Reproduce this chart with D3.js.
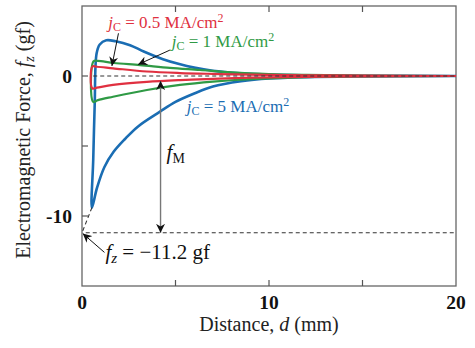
<!DOCTYPE html>
<meta charset="utf-8">
<style>
 body { margin: 0; background: #fff; }
 text { font-family: 'Liberation Serif', 'Times New Roman', serif; }
 .tick-label { font-weight: bold; font-size: 19.5px; fill: #111; }
 .axis-title { font-size: 20px; fill: #222; }
 .frame { fill: none; stroke: #666; stroke-width: 1.3; }
 .tick { stroke: #555; stroke-width: 1.2; }
 .curve { fill: none; stroke-linejoin: round; stroke-linecap: round; }
</style>
<body>
<script src="https://cdn.jsdelivr.net/npm/d3@7"></script>
<script>

 // current density series, loops traced as [distance mm, force gf]
 var seriesNames = ["5", "1", "0.5"];
 var seriesColors = ["#1a6db3", "#2f9a45", "#e03040"];

 var loop5 = [
     [20, 0], [15, 0.02], [12, 0.05], [10, 0.1], [8.5, 0.2], [7, 0.38], [6, 0.6],
     [5.2, 0.85], [4.33, 1.2], [3.3, 1.75], [2.57, 2.2], [1.8, 2.48], [1.3, 2.55],
     [0.95, 2.25], [0.78, 1.6], [0.68, -2.0], [0.6, -6.0], [0.53, -9.4],
     [0.8, -8.0], [1.2, -6.5], [1.7, -5.4], [2.3, -4.5], [3.0, -3.6], [4.17, -2.55],
     [5, -1.85], [6, -1.25], [7, -0.75], [8.5, -0.38], [10, -0.18], [12, -0.08],
     [15, -0.03], [20, 0]
 ];
 var loop1 = [
     [20, 0], [15, 0.03], [12, 0.08], [10, 0.14], [8, 0.26], [6.3, 0.43], [4.7, 0.58],
     [3.1, 0.78], [1.7, 0.93], [0.85, 1.08], [0.62, 1.05], [0.6, -1.85],
     [0.85, -1.72], [1.66, -1.48], [3.47, -1.0], [5.24, -0.64], [7, -0.4],
     [9, -0.22], [12, -0.08], [15, -0.03], [20, 0]
 ];
 var loop05 = [
     [20, 0], [15, 0.02], [12, 0.05], [9, 0.1], [7, 0.15], [5.24, 0.21], [3.47, 0.32],
     [1.66, 0.55], [0.8, 0.66], [0.56, 0.68], [0.55, -0.88], [0.8, -0.83],
     [1.66, -0.64], [3.47, -0.42], [5.24, -0.29], [7, -0.2], [9, -0.12],
     [12, -0.06], [15, -0.02], [20, 0]
 ];
 var loops = [loop5, loop1, loop05];

 var xTicks = [0, 5, 10, 15, 20];
 var xTickLabels = [0, 10, 20];
 var yTicks = [-10, -5, 0];
 var yTickLabels = [0, -10];

 var fzStatic = -11.2;   // dashed reference line
 var fmDistance = 4.2;   // where the f_M arrow is drawn
 var fmTop = -0.35;

 var margin = {top: 6, right: 19, bottom: 62, left: 82},
     width = 475 - margin.left - margin.right,
     height = 348 - margin.top - margin.bottom;

 var x = d3.scaleLinear().domain([0, 20]).range([0, width]);
 var y = d3.scaleLinear().domain([-15, 5]).range([height, 0]);

 var root = d3.select("body").append("svg")
     .attr("width", 475)
     .attr("height", 348);

 var defs = root.append("defs");
 defs.append("marker")
     .attr("id", "head")
     .attr("viewBox", "0 0 10 10")
     .attr("refX", 10).attr("refY", 5)
     .attr("markerWidth", 9).attr("markerHeight", 9)
     .attr("markerUnits", "userSpaceOnUse")
     .attr("orient", "auto-start-reverse")
     .append("path")
     .attr("d", "M0,0 L10,5 L0,10 L3,5 Z")
     .attr("fill", "#111");

 var svg = root.append("g")
     .attr("transform", "translate(" + margin.left + "," + margin.top + ")");

 // frame
 svg.append("rect").attr("class", "frame")
    .attr("width", width).attr("height", height);

 // inward ticks
 xTicks.slice(1, -1).forEach(function(t) {
     svg.append("line").attr("class", "tick")
        .attr("x1", x(t)).attr("x2", x(t)).attr("y1", height).attr("y2", height - 6);
     svg.append("line").attr("class", "tick")
        .attr("x1", x(t)).attr("x2", x(t)).attr("y1", 0).attr("y2", 6);
 });
 yTicks.forEach(function(t) {
     svg.append("line").attr("class", "tick")
        .attr("x1", 0).attr("x2", 6).attr("y1", y(t)).attr("y2", y(t));
 });

 svg.selectAll(".xl").data(xTickLabels).enter().append("text")
    .attr("class", "tick-label")
    .attr("x", function(d) { return x(d); })
    .attr("y", height + 23)
    .attr("text-anchor", "middle")
    .text(function(d) { return d; });

 svg.selectAll(".yl").data(yTickLabels).enter().append("text")
    .attr("class", "tick-label")
    .attr("x", -10)
    .attr("y", function(d) { return y(d); })
    .attr("dy", "0.35em")
    .attr("text-anchor", "end")
    .text(function(d) { return d; });

 // axis titles
 var xt = svg.append("text").attr("class", "axis-title")
    .attr("x", width / 2).attr("y", height + 45)
    .attr("text-anchor", "middle");
 xt.append("tspan").text("Distance, ");
 xt.append("tspan").attr("font-style", "italic").text("d");
 xt.append("tspan").text(" (mm)");

 var yt = svg.append("text").attr("class", "axis-title")
    .attr("transform", "translate(" + (-52) + "," + (height / 2 - 6) + ") rotate(-90)")
    .attr("text-anchor", "middle")
    .attr("font-size", "20.5px");
 yt.append("tspan").text("Electromagnetic Force, ");
 yt.append("tspan").attr("font-style", "italic").text("f");
 yt.append("tspan").attr("font-style", "italic").attr("font-size", "14px").attr("dy", 4).text("z");
 yt.append("tspan").attr("dy", -4).text(" (gf)");

 var line = d3.line()
     .x(function(d) { return x(d[0]); })
     .y(function(d) { return y(d[1]); })
     .curve(d3.curveCatmullRom.alpha(0.5));

 svg.append("clipPath").attr("id", "clip")
    .append("rect").attr("width", width).attr("height", height);

 var chart = svg.append("g").attr("clip-path", "url(#clip)");

 loops.forEach(function(pts, i) {
     chart.append("path")
          .datum(pts)
          .attr("class", "curve")
          .attr("stroke", seriesColors[i])
          .attr("stroke-width", i == 0 ? 2.6 : 2.2)
          .attr("d", line);
 });

 // dashed reference lines
 chart.append("line")
      .attr("x1", x(0.6)).attr("x2", x(20))
      .attr("y1", y(0)).attr("y2", y(0))
      .attr("stroke", "#333").attr("stroke-width", 1.1)
      .attr("stroke-dasharray", "4,3");
 chart.append("line")
      .attr("x1", x(0.2)).attr("x2", x(20))
      .attr("y1", y(fzStatic)).attr("y2", y(fzStatic))
      .attr("stroke", "#333").attr("stroke-width", 1.1)
      .attr("stroke-dasharray", "4,3");
 chart.append("line")
      .attr("x1", x(loop5[17][0])).attr("x2", x(0))
      .attr("y1", y(loop5[17][1])).attr("y2", y(fzStatic))
      .attr("stroke", "#333").attr("stroke-width", 1.1)
      .attr("stroke-dasharray", "4,3");

 // f_M double arrow
 svg.append("line")
    .attr("x1", x(fmDistance)).attr("x2", x(fmDistance))
    .attr("y1", y(fmTop)).attr("y2", y(fzStatic))
    .attr("stroke", "#777").attr("stroke-width", 1.4)
    .attr("marker-start", "url(#head)")
    .attr("marker-end", "url(#head)");

 var fm = svg.append("text")
    .attr("x", x(fmDistance) + 6).attr("y", y(-5.9))
    .attr("font-size", "21px").attr("fill", "#111");
 fm.append("tspan").attr("font-style", "italic").text("f");
 fm.append("tspan").attr("font-size", "14px").attr("dy", 4).text("M");

 // label arrows: [from d, from f, to d, to f]
 var pointers = [
     [1.95, 3.05, 1.6, 0.72],
     [4.7, 1.85, 3.0, 0.82],
     [1.2, -12.6, 0.04, -11.25]
 ];
 pointers.forEach(function(p) {
     svg.append("line")
        .attr("x1", x(p[0])).attr("y1", y(p[1]))
        .attr("x2", x(p[2])).attr("y2", y(p[3]))
        .attr("stroke", "#111").attr("stroke-width", 1)
        .attr("marker-end", "url(#head)");
 });

 // series labels: [d, f] of text baseline start
 var labelPos = [[5.6, -2.6], [4.8, 2.1], [1.4, 3.45]];
 labelPos.forEach(function(p, i) {
     var t = svg.append("text")
        .attr("x", x(p[0])).attr("y", y(p[1]))
        .attr("font-size", "17px")
        .attr("fill", seriesColors[i]);
     t.append("tspan").attr("font-style", "italic").text("j");
     t.append("tspan").attr("font-size", "12px").attr("dy", 3).text("C");
     t.append("tspan").attr("dy", -3).text(" = " + seriesNames[i] + " MA/cm");
     t.append("tspan").attr("font-size", "12px").attr("dy", -6).text("2");
 });

 var fz = svg.append("text")
    .attr("x", x(1.25)).attr("y", y(-13.1))
    .attr("font-size", "21px").attr("fill", "#111");
 fz.append("tspan").attr("font-style", "italic").text("f");
 fz.append("tspan").attr("font-style", "italic").attr("font-size", "15px").attr("dy", 4).text("z");
 fz.append("tspan").attr("dy", -4).text(" = \u221211.2 gf");

</script>
